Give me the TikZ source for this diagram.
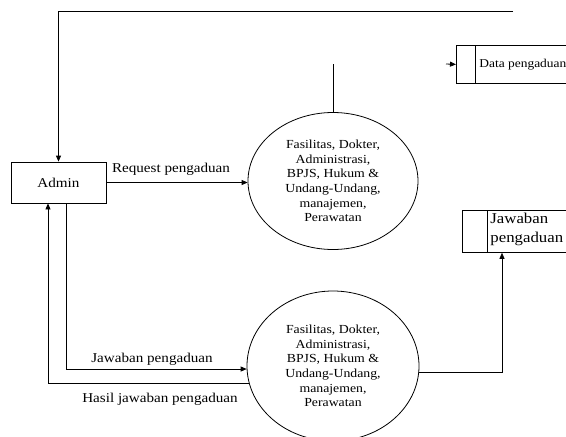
\documentclass[tikz,border=0pt]{standalone}
\usepackage{fontspec}
\setmainfont{Liberation Serif}[FakeStretch=1.12]
\usetikzlibrary{arrows.meta,shapes.geometric}
\begin{document}
\begin{tikzpicture}[x=1pt,y=-1pt,line width=0.8pt,
  arr/.style={-{Triangle[length=6pt,width=5pt]}},
  ent/.style={draw,rectangle,minimum width=95pt,minimum height=41pt,inner sep=0pt,font=\fontsize{13.5}{15}\selectfont},
  proc/.style={draw,ellipse,inner sep=0pt,align=center,font=\fontsize{12.3}{14.6}\selectfont},
  lbl/.style={inner sep=0pt,font=\fontsize{13.5}{15}\selectfont},
  store/.style={draw,rectangle,anchor=north west,inner sep=0pt}]
\useasboundingbox (0,0) rectangle (566,437);
\clip (0,0) rectangle (566,437);
% entity
\node[ent] (admin) at (58.5,182.5) {Admin};
% processes
\node[proc,minimum width=170pt,minimum height=137pt] (p1) at (333,181)
  {Fasilitas, Dokter,\\Administrasi,\\BPJS, Hukum \&\\Undang-Undang,\\manajemen,\\Perawatan};
\node[proc,minimum width=172pt,minimum height=150pt] (p2) at (333,366)
  {Fasilitas, Dokter,\\Administrasi,\\BPJS, Hukum \&\\Undang-Undang,\\manajemen,\\Perawatan};
% data stores
\node[store,minimum width=130pt,minimum height=38pt] (ds1) at (456,45) {};
\draw ([xshift=19pt]ds1.north west) -- ([xshift=19pt]ds1.south west);
\node[anchor=west,inner sep=0pt,font=\fontsize{12}{13}\selectfont] (ds1t) at (479,65) {Data pengaduan};
\node[store,minimum width=130pt,minimum height=42pt] (ds2) at (462,210) {};
\draw ([xshift=25pt]ds2.north west) -- ([xshift=25pt]ds2.south west);
\node[anchor=north west,align=left,inner sep=0pt,font=\fontsize{15}{19}\selectfont] (ds2t) at (490,213) {Jawaban\\pengaduan};
% free ends
\coordinate (topend) at (513,11);
\coordinate (p1up) at (333,64);
\coordinate (ds1in) at (446,64);
% connectors
\draw[arr] (topend) -| (admin.north);
\draw (p1.north) -- (p1up);
\draw[arr] (ds1in) -- (ds1.west);
\draw[arr] (admin.east) -- (admin.east -| p1.west);
\draw[arr] ([xshift=7.5pt]admin.south) |- (p2.182);
\draw[arr] (p2.192) -| ([xshift=-10.5pt]admin.south);
\draw[arr] (p2.356) -| ([xshift=40pt]ds2.south west);
% labels
\node[lbl] (lreq) at (171,169) {Request pengaduan};
\node[lbl] (ljaw) at (152,359) {Jawaban pengaduan};
\node[lbl] (lhas) at (160,399) {Hasil jawaban pengaduan};
\end{tikzpicture}
\end{document}
